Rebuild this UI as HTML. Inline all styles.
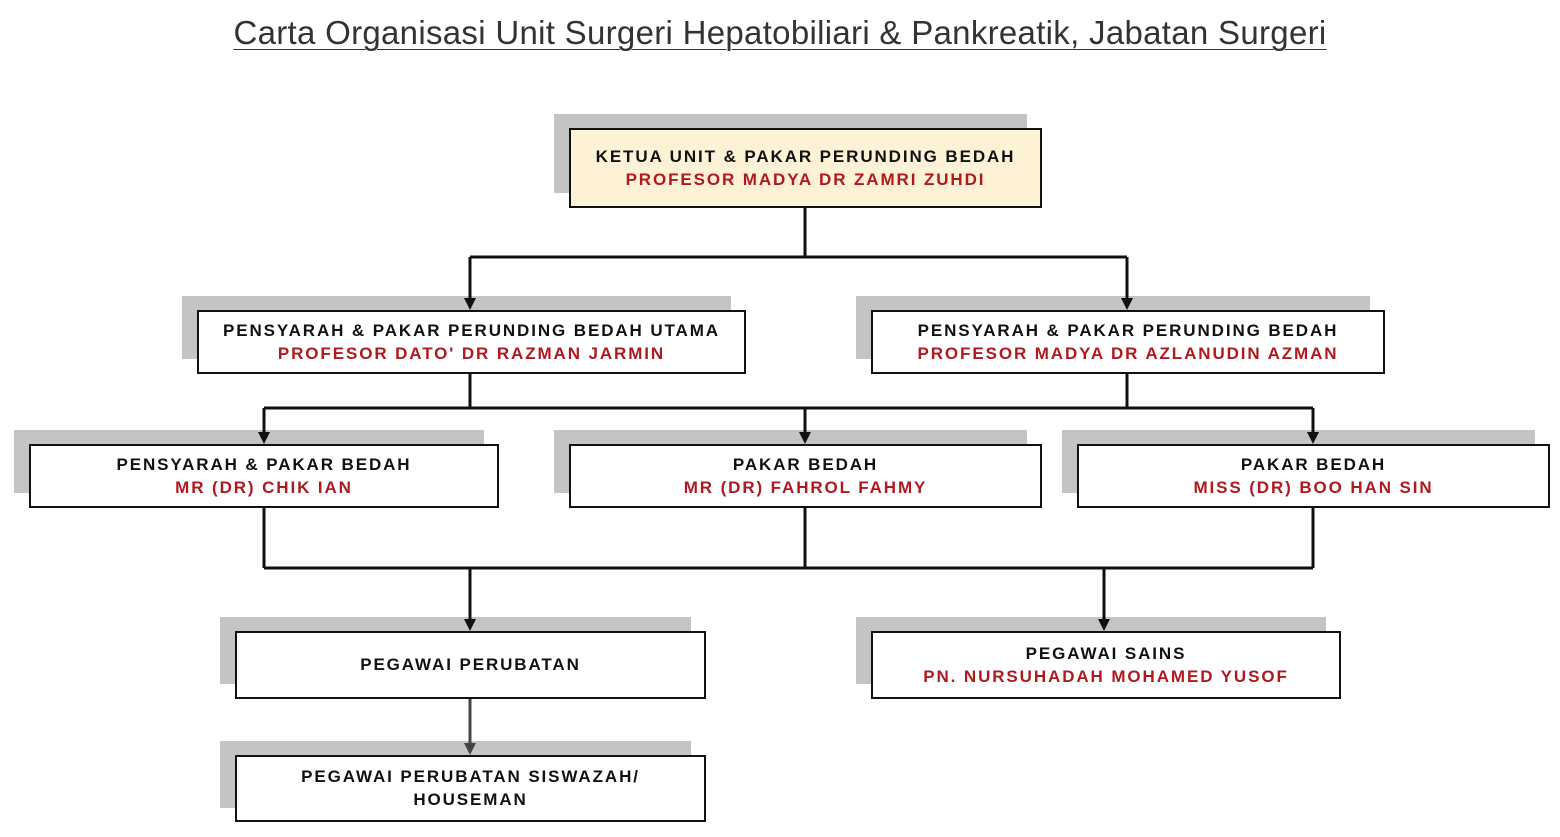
<!DOCTYPE html>
<html><head><meta charset="utf-8"><style>
body{margin:0;width:1560px;height:837px;background:#fff;position:relative;overflow:hidden;font-family:"Liberation Sans",sans-serif}
.t{position:absolute;left:0;width:1560px;top:14px;text-align:center;font-size:33px;color:#333;text-decoration:underline;text-decoration-thickness:1px;text-underline-offset:5px;letter-spacing:0.3px}
.s{position:absolute;background:#c4c4c4}
.b{position:absolute;background:#fff;border:2px solid #111;box-sizing:border-box;display:flex;flex-direction:column;justify-content:center;align-items:center;font-weight:bold;font-size:17px;line-height:23px;letter-spacing:1.9px;color:#111;text-align:center;padding-bottom:1px}
.r{color:#b0191e}
svg{position:absolute;left:0;top:0}
</style></head><body>
<div class="t">Carta Organisasi Unit Surgeri Hepatobiliari &amp; Pankreatik, Jabatan Surgeri</div>

<div class="s" style="left:554px;top:114px;width:473px;height:79px"></div>
<div class="s" style="left:182px;top:296px;width:549px;height:63px"></div>
<div class="s" style="left:856px;top:296px;width:514px;height:63px"></div>
<div class="s" style="left:14px;top:430px;width:470px;height:63px"></div>
<div class="s" style="left:554px;top:430px;width:473px;height:63px"></div>
<div class="s" style="left:1062px;top:430px;width:473px;height:63px"></div>
<div class="s" style="left:220px;top:617px;width:471px;height:67px"></div>
<div class="s" style="left:856px;top:617px;width:470px;height:67px"></div>
<div class="s" style="left:220px;top:741px;width:471px;height:67px"></div>

<div class="b" style="left:569px;top:128px;width:473px;height:80px;background:#fdf2d6"><div>KETUA UNIT &amp; PAKAR PERUNDING BEDAH</div><div class="r">PROFESOR MADYA DR ZAMRI ZUHDI</div></div>
<div class="b" style="left:197px;top:310px;width:549px;height:64px"><div>PENSYARAH &amp; PAKAR PERUNDING BEDAH UTAMA</div><div class="r">PROFESOR DATO' DR RAZMAN JARMIN</div></div>
<div class="b" style="left:871px;top:310px;width:514px;height:64px"><div>PENSYARAH &amp; PAKAR PERUNDING BEDAH</div><div class="r">PROFESOR MADYA DR AZLANUDIN AZMAN</div></div>
<div class="b" style="left:29px;top:444px;width:470px;height:64px"><div>PENSYARAH &amp; PAKAR BEDAH</div><div class="r">MR (DR) CHIK IAN</div></div>
<div class="b" style="left:569px;top:444px;width:473px;height:64px"><div>PAKAR BEDAH</div><div class="r">MR (DR) FAHROL FAHMY</div></div>
<div class="b" style="left:1077px;top:444px;width:473px;height:64px"><div>PAKAR BEDAH</div><div class="r">MISS (DR) BOO HAN SIN</div></div>
<div class="b" style="left:235px;top:631px;width:471px;height:68px"><div>PEGAWAI PERUBATAN</div></div>
<div class="b" style="left:871px;top:631px;width:470px;height:68px"><div>PEGAWAI SAINS</div><div class="r">PN. NURSUHADAH MOHAMED YUSOF</div></div>
<div class="b" style="left:235px;top:755px;width:471px;height:67px"><div>PEGAWAI PERUBATAN SISWAZAH/</div><div>HOUSEMAN</div></div>

<svg width="1560" height="837">
<g stroke="#111" stroke-width="3" fill="none">
<path d="M805 208V257M470 257H1127M470 257V300M1127 257V300"/>
<path d="M470 374V408M1127 374V408M264 408H1313M264 408V434M805 408V434M1313 408V434"/>
<path d="M264 508V568M805 508V568M1313 508V568M264 568H1313M470 568V621M1104 568V621"/>
</g>
<path d="M470 699V745" stroke="#444" stroke-width="3"/>
<g fill="#111">
<path d="M464 298h12l-6 12z"/><path d="M1121 298h12l-6 12z"/>
<path d="M258 432h12l-6 12z"/><path d="M799 432h12l-6 12z"/><path d="M1307 432h12l-6 12z"/>
<path d="M464 619h12l-6 12z"/><path d="M1098 619h12l-6 12z"/>
<path d="M464 743h12l-6 12z" fill="#444"/>
</g>
</svg>
</body></html>
